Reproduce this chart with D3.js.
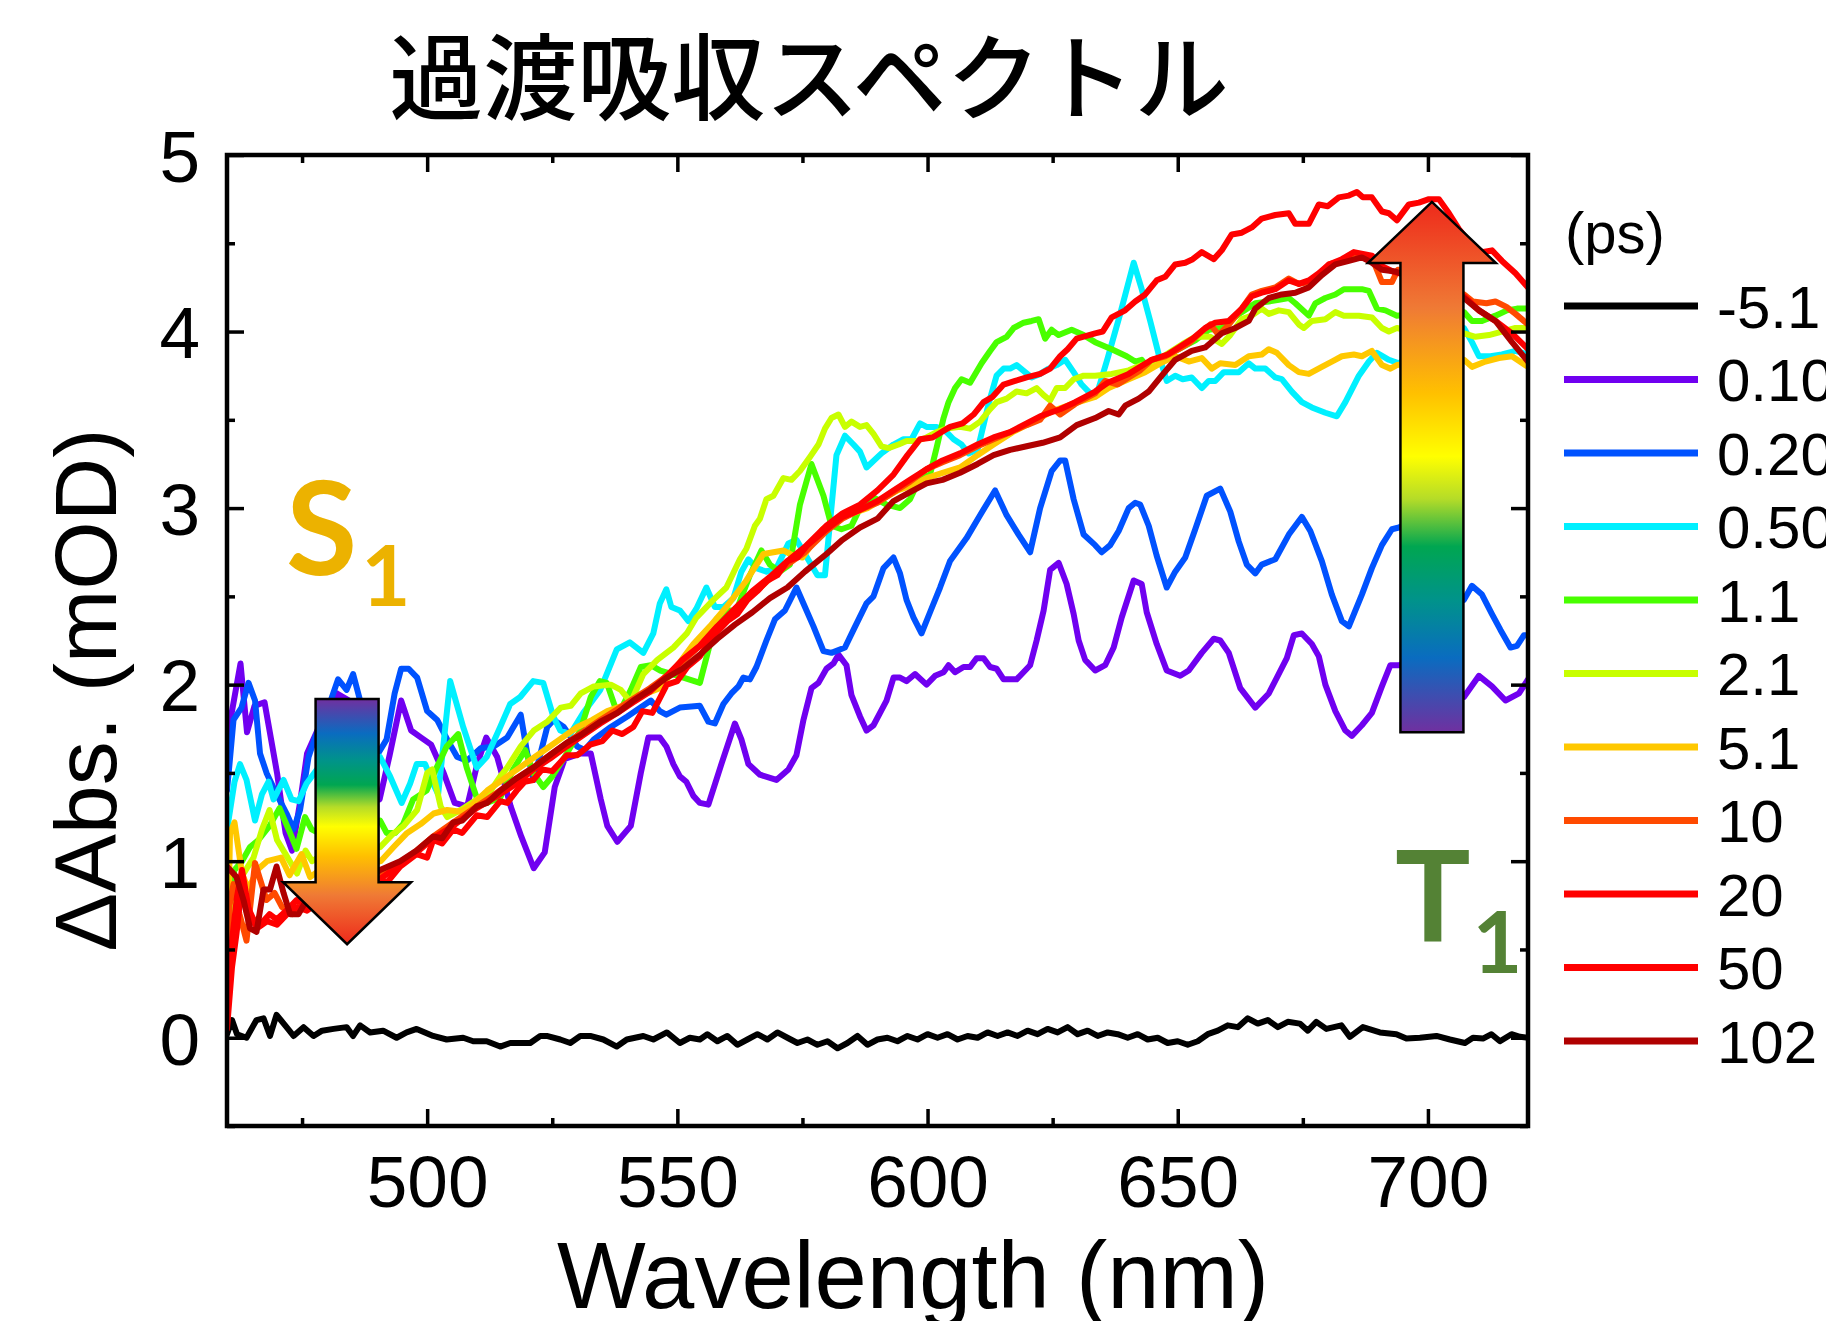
<!DOCTYPE html>
<html>
<head>
<meta charset="utf-8">
<script src="https://cdn.jsdelivr.net/npm/d3@7/dist/d3.min.js"></script>
<style>
  body { margin: 0; background: #fff; }
  svg { display: block; }
</style>
</head>
<body>
<svg id="chart"></svg>
<script>
// Legend entries (delay, ps) and line colours
const delays = ['-5.1', '0.10', '0.20', '0.50', '1.1', '2.1', '5.1', '10', '20', '50', '102'];
const lineColors = ['#000000', '#7000f0', '#0052ff', '#00f0ff', '#48ff00', '#c8ff00', '#ffc800', '#ff4a00', '#ff0000', '#ff0000', '#b00000'];

// Axis ticks
const xMajorTicks = [500, 550, 600, 650, 700];
const xMinorTicks = [475, 525, 575, 625, 675];
const yMajorTicks = [0, 1, 2, 3, 4, 5];
const yMinorTicks = [-0.5, 0.5, 1.5, 2.5, 3.5, 4.5];

// Spectra: [wavelength (nm), dAbs (mOD)]
const spec_m5p1 = [[460,0.02],[461,0.10],[462,0.02],[463.9,0.00],[465.9,0.10],[467.3,0.11],[468.6,0.01],[469.9,0.13],[471.9,0.06],[473.3,0.01],[475.3,0.06],[477.3,0.01],[479,0.04],[481.3,0.05],[483.9,0.06],[485.2,0.01],[486.6,0.07],[488.6,0.03],[491.2,0.04],[493.9,0.00],[495.9,0.03],[497.9,0.05],[501.2,0.01],[503.9,-0.01],[507.2,0.00],[509.2,-0.02],[511.9,-0.02],[514.6,-0.05],[516.6,-0.03],[520.6,-0.03],[522.6,0.01],[523.9,0.01],[526.6,-0.01],[528.6,-0.03],[530.6,0.01],[532.6,0.01],[535.2,-0.01],[537.9,-0.05],[539.9,-0.01],[543.2,0.01],[545.2,-0.01],[547.9,0.03],[550.5,-0.03],[552.5,0.00],[554.5,-0.01],[556,0.02],[558,-0.02],[560,0.01],[562,-0.04],[564,-0.01],[566,0.02],[568,-0.01],[570,0.03],[572,0.00],[574,-0.03],[576,-0.01],[578,-0.04],[580,-0.02],[582,-0.06],[584,-0.03],[586,0.01],[588,-0.04],[590,-0.01],[592,0.00],[594,-0.02],[596,0.01],[598,-0.01],[600,0.02],[602,0.00],[604,0.02],[606,-0.01],[608,0.01],[610,0.00],[612,0.03],[614,0.01],[616,0.03],[618,0.01],[620,0.04],[622,0.02],[624,0.05],[626,0.03],[628,0.06],[630,0.02],[632,0.04],[634,0.01],[636,0.03],[638,0.02],[640,0.00],[642,0.02],[644,-0.01],[646,0.00],[648,-0.03],[650,-0.02],[652,-0.04],[654,-0.02],[656,0.02],[658,0.04],[660,0.07],[662,0.06],[664,0.11],[666,0.08],[668,0.10],[670,0.06],[672,0.09],[674.4,0.08],[676,0.04],[677.7,0.09],[679.7,0.05],[682.7,0.07],[684.4,0.005],[687,0.06],[690.4,0.03],[693.7,0.02],[695.7,-0.005],[698.4,0.00],[701.7,0.01],[704.4,-0.01],[707.4,-0.03],[709,0.00],[711,-0.005],[712.7,0.02],[714.4,-0.02],[716.7,0.02],[718.4,0.005],[720,0.00]];

const spec_0p10 = [[460,1.70],[461,1.85],[462.7,2.12],[464,1.73],[465.5,1.88],[467.5,1.90],[470,1.50],[471.7,1.16],[473,1.06],[474.7,1.35],[476,1.61],[479,1.80],[482,1.95],[485,1.90],[488,1.55],[490.5,1.35],[492.5,1.60],[494.8,1.91],[496.8,1.74],[498.8,1.70],[500.8,1.66],[503.3,1.50],[505.5,1.33],[508,1.31],[510,1.55],[511.8,1.70],[514,1.59],[516.7,1.31],[518.8,1.14],[521.3,0.96],[523.5,1.05],[525.5,1.42],[527.5,1.58],[530.7,1.61],[532.7,1.61],[534.7,1.35],[536,1.20],[538,1.11],[540.7,1.20],[542.7,1.50],[544.2,1.70],[546.5,1.70],[547.8,1.65],[549.2,1.55],[550.5,1.48],[551.8,1.45],[553.2,1.37],[554.5,1.33],[556.2,1.32],[558.8,1.55],[561.5,1.78],[562.8,1.69],[564.2,1.55],[566.5,1.49],[569.8,1.46],[572.2,1.52],[573.8,1.60],[575.2,1.80],[576.8,1.98],[578.2,2.01],[579.8,2.09],[581.2,2.12],[582.2,2.17],[583.8,2.11],[584.8,1.94],[586.5,1.82],[587.8,1.74],[589.2,1.77],[591.8,1.91],[593.2,2.04],[594.5,2.04],[595.8,2.02],[597.5,2.06],[599.8,2.00],[601.5,2.05],[603.2,2.07],[604.2,2.11],[605.5,2.07],[607.2,2.10],[608.5,2.10],[609.8,2.15],[611.2,2.15],[612.5,2.10],[613.8,2.09],[615.2,2.03],[617.8,2.03],[620.5,2.11],[621.8,2.25],[623.2,2.42],[624.5,2.65],[626.2,2.69],[627.8,2.57],[629.2,2.40],[630.2,2.25],[631.5,2.14],[633.5,2.08],[635.5,2.11],[637.2,2.21],[638.8,2.38],[641.2,2.59],[642.8,2.57],[643.8,2.41],[645.8,2.23],[647.8,2.08],[650.5,2.05],[652.2,2.08],[654.8,2.18],[657.2,2.26],[658.5,2.25],[660.2,2.18],[662.5,1.98],[665.5,1.87],[668.2,1.95],[671.8,2.15],[673.2,2.28],[674.8,2.29],[676.8,2.23],[678.2,2.16],[679.5,2.00],[681.5,1.85],[683.5,1.74],[684.8,1.71],[686.8,1.77],[688.8,1.84],[690.8,1.99],[692.5,2.11],[694.2,2.11],[697,2.14],[700,2.08],[704,1.98],[707.2,1.93],[710.2,2.05],[712.8,1.99],[715.5,1.91],[718.2,1.95],[720,2.03]];

const spec_0p20 = [[460,1.40],[460.5,1.55],[461.3,1.80],[462.9,1.87],[464.3,2.01],[465.6,1.91],[466.6,1.61],[467.9,1.50],[469.9,1.38],[471.9,1.27],[473.3,1.18],[474.6,1.29],[476.3,1.59],[477.6,1.70],[480,1.85],[482.2,2.03],[483.9,1.97],[485.2,2.06],[486.6,1.91],[488.5,1.70],[490,1.60],[491.9,1.69],[493.5,1.95],[494.8,2.09],[496.3,2.09],[498,2.04],[500,1.85],[502,1.80],[504,1.69],[506,1.59],[508,1.57],[510.7,1.64],[513.3,1.65],[516,1.70],[518.7,1.83],[520,1.61],[521.3,1.46],[524,1.76],[525.3,1.80],[527.3,1.76],[530,1.65],[531.5,1.63],[533.3,1.69],[536.7,1.76],[540,1.82],[544.7,1.91],[546.5,1.85],[547.8,1.83],[550.5,1.87],[554.5,1.88],[556.2,1.79],[557.5,1.78],[559.2,1.89],[560.8,1.95],[562.2,1.99],[563.2,2.04],[564.5,2.03],[565.8,2.10],[567.8,2.25],[569.5,2.37],[571.5,2.42],[573.8,2.55],[575.2,2.46],[577.2,2.33],[579.2,2.19],[580.8,2.18],[583.5,2.21],[585.2,2.31],[587.8,2.46],[589.2,2.50],[591.2,2.66],[593.2,2.72],[594.5,2.63],[595.8,2.48],[597.2,2.38],[598.8,2.29],[600.5,2.41],[602.5,2.55],[604.5,2.70],[607.8,2.83],[610.5,2.96],[613.5,3.10],[615.8,2.96],[618.2,2.85],[620.5,2.75],[622.5,3.00],[624.8,3.21],[626.5,3.27],[627.5,3.27],[629.2,3.05],[631.2,2.85],[633.5,2.79],[634.8,2.75],[636.5,2.79],[638.2,2.87],[640.2,3.00],[641.5,3.03],[642.5,3.02],[644.2,2.90],[645.8,2.73],[647.8,2.55],[649.5,2.64],[651.5,2.72],[653.5,2.88],[655.8,3.07],[658.5,3.11],[660.5,2.98],[662.2,2.81],[663.8,2.68],[665.5,2.63],[666.8,2.68],[669.5,2.71],[672.2,2.85],[674.8,2.95],[676.5,2.87],[678.8,2.70],[680.8,2.51],[682.8,2.36],[684.2,2.33],[686.8,2.51],[688.8,2.66],[690.8,2.79],[692.8,2.88],[694.2,2.89],[697,2.93],[701,2.75],[704.5,2.50],[707.2,2.48],[708.8,2.56],[710.8,2.51],[712.8,2.40],[714.5,2.31],[716.5,2.21],[717.8,2.22],[719.2,2.28],[720,2.28]];

const spec_0p50 = [[460,1.10],[460.3,1.23],[461.5,1.45],[462.6,1.55],[463.9,1.46],[465.6,1.23],[467,1.38],[468.3,1.45],[469.3,1.35],[471.3,1.46],[472.9,1.35],[474.3,1.34],[475.9,1.44],[478,1.52],[481,1.55],[484,1.52],[487,1.48],[490.6,1.59],[492.6,1.48],[494.9,1.33],[496.6,1.44],[497.9,1.55],[499.6,1.55],[501,1.45],[502.2,1.38],[504.6,2.02],[507.2,1.76],[509.9,1.53],[511.9,1.59],[514.6,1.76],[516.6,1.89],[518.6,1.93],[521.2,2.02],[523.2,2.01],[525.2,1.82],[526.6,1.74],[528.6,1.72],[531.2,1.84],[534.6,1.97],[537.9,2.20],[540.5,2.24],[543.2,2.18],[545.2,2.29],[546.5,2.46],[547.8,2.54],[548.8,2.44],[550.5,2.42],[552.2,2.36],[553.8,2.43],[555.8,2.55],[557.5,2.44],[559.2,2.44],[561.2,2.49],[562.8,2.64],[564.2,2.71],[565.8,2.66],[567.8,2.64],[569.8,2.66],[572.2,2.80],[573.8,2.82],[575.5,2.74],[578,2.62],[579.5,2.62],[581.8,3.30],[583.5,3.41],[585.2,3.36],[586.5,3.32],[587.8,3.23],[590.8,3.31],[593.2,3.36],[595.2,3.39],[596.8,3.39],[598.5,3.48],[599.8,3.46],[601.8,3.46],[603.8,3.43],[605.2,3.39],[606.8,3.36],[608.2,3.31],[610,3.33],[612.2,3.59],[613.8,3.75],[615.2,3.79],[616.5,3.79],[617.8,3.81],[619.5,3.77],[620.8,3.74],[622.5,3.76],[624.2,3.79],[625.8,3.81],[627.5,3.84],[629.2,3.77],[630.8,3.70],[632.5,3.65],[634,3.66],[636,3.85],[638.5,4.10],[641.2,4.39],[642.8,4.24],[644.5,4.06],[646.2,3.87],[647.8,3.72],[649.5,3.75],[651,3.73],[652.8,3.74],[654.8,3.68],[656.2,3.72],[657.5,3.72],[659.2,3.77],[662.2,3.77],[664.2,3.82],[665.5,3.79],[667.5,3.79],[669.5,3.74],[670.8,3.73],[672.8,3.66],[674.8,3.60],[676.8,3.57],[679.5,3.54],[681.8,3.52],[683.5,3.60],[686.2,3.75],[688.2,3.83],[689.8,3.88],[692.2,3.84],[694.2,3.82],[697,3.88],[701,3.92],[704,3.98],[707.2,4.02],[708.8,3.94],[710.2,3.86],[712.5,3.86],[714.8,3.87],[717.5,3.89],[720,3.87]];

const spec_1p1 = [[460,0.75],[461.5,0.95],[463,1.00],[464.6,1.08],[466.3,1.12],[468.5,1.20],[470.5,1.30],[472.6,1.16],[473.9,1.07],[475.6,1.25],[476.9,1.18],[479,1.15],[482,1.20],[485,1.22],[488,1.20],[490.6,1.23],[491.9,1.16],[493.6,1.16],[495.2,1.21],[497.2,1.35],[499.9,1.40],[501.9,1.53],[503.9,1.65],[506.2,1.72],[507.9,1.53],[509.9,1.36],[511.9,1.33],[514.6,1.36],[517.2,1.52],[519.6,1.63],[521.2,1.50],[523.2,1.42],[525,1.48],[527.9,1.61],[530.6,1.74],[532.7,1.93],[534.5,2.02],[535.9,2.01],[537.6,1.87],[538.7,1.86],[540.7,1.97],[542.7,2.10],[544.7,2.11],[546.6,2.08],[549,2.06],[551.2,2.04],[554.5,2.01],[557.8,2.37],[559.8,2.42],[561.8,2.42],[564.5,2.62],[566.8,2.76],[568.5,2.68],[570.5,2.64],[572.5,2.68],[574.5,3.02],[576.8,3.25],[579.2,3.07],[580.8,2.90],[582.8,2.88],[584.8,2.90],[586.5,3.00],[589.2,3.06],[591.8,3.02],[594.5,3.00],[596.5,3.05],[598.5,3.17],[600.5,3.19],[601.8,3.34],[603.2,3.51],[604.2,3.60],[605.5,3.68],[606.8,3.73],[608.5,3.71],[610.8,3.82],[612.5,3.89],[613.8,3.94],[615.8,3.97],[617.2,4.02],[619.2,4.05],[620.8,4.06],[622.2,4.07],[623.5,3.96],[624.8,4.01],[626.2,3.98],[628.8,4.01],[631.2,3.98],[633.5,3.94],[636.8,3.90],[639.8,3.86],[641.5,3.83],[642.8,3.84],[644.2,3.79],[646.8,3.83],[649.5,3.89],[651.5,3.92],[653.5,3.95],[656.2,4.01],[658.8,4.02],[660.8,4.07],[662.8,4.11],[665.5,4.16],[668.2,4.17],[670.2,4.18],[672.2,4.19],[673.5,4.16],[676.2,4.09],[677.5,4.16],[679.5,4.19],[681.5,4.21],[683.2,4.24],[685.2,4.24],[686.8,4.24],[688.2,4.23],[689.8,4.13],[691.5,4.12],[693.8,4.09],[697,4.10],[701,4.12],[704,4.12],[707.2,4.11],[708.8,4.06],[710.8,4.06],[713.5,4.09],[715.8,4.12],[717.8,4.13],[720,4.13]];

const spec_2p1 = [[460,0.36],[461.5,0.75],[463.3,0.93],[465.3,1.02],[467,1.18],[468.5,1.29],[470,1.12],[471.7,1.04],[474,0.93],[475.7,1.06],[477,1.00],[480,1.05],[484,1.08],[488,1.05],[490.6,1.08],[493,1.15],[495.3,1.20],[498,1.29],[500,1.50],[501,1.52],[502.7,1.31],[504,1.25],[506.7,1.29],[510,1.35],[512.7,1.40],[514.6,1.48],[516,1.53],[518.7,1.65],[521.3,1.74],[524,1.79],[526.7,1.87],[528.7,1.88],[530.7,1.95],[533.3,1.99],[536.7,2.00],[538.7,1.97],[540.7,1.90],[543.2,2.06],[546,2.14],[549.2,2.21],[551.9,2.29],[553.8,2.38],[557.2,2.48],[559.8,2.55],[562.5,2.71],[563.8,2.77],[565.5,2.90],[566.5,2.94],[567.8,3.05],[569.2,3.07],[571.2,3.17],[572.8,3.16],[574.5,3.21],[576.5,3.29],[578.2,3.36],[579.5,3.45],[580.8,3.51],[582.2,3.53],[583.5,3.46],[584.8,3.49],[586.5,3.46],[587.8,3.47],[589.2,3.42],[590.8,3.35],[592.2,3.34],[594.2,3.36],[595.8,3.38],[597.8,3.38],[599.8,3.40],[601.8,3.43],[603.8,3.45],[606.5,3.46],[608.5,3.45],[610.5,3.49],[612.5,3.56],[613.8,3.60],[615.8,3.62],[617.8,3.66],[619.8,3.65],[621.8,3.68],[623.2,3.64],[624.5,3.61],[625.8,3.68],[627.5,3.68],[629.2,3.73],[631.2,3.75],[633.5,3.75],[636.8,3.76],[640.2,3.78],[642.8,3.81],[645.5,3.83],[648.8,3.89],[651,3.93],[653.5,3.97],[656.5,3.97],[658.8,3.93],[660.5,3.98],[662.8,4.07],[664.8,4.09],[666.8,4.13],[668.2,4.10],[670.2,4.12],[672.2,4.11],[674.2,4.04],[675.2,4.02],[676.8,4.06],[679.5,4.07],[681.5,4.11],[683.2,4.09],[686.2,4.09],[688.8,4.08],[690.8,4.02],[692.2,4.00],[693.8,4.02],[697,4.00],[701,3.99],[704,3.98],[707.2,3.99],[709.5,3.97],[712.2,3.98],[714.8,4.00],[717.5,4.02],[720,4.02]];

const spec_5p1 = [[460,0.20],[460.6,1.16],[461.5,1.22],[463,0.93],[464.3,0.84],[466,0.95],[468,1.00],[470.8,1.02],[472.5,0.92],[474.9,1.04],[476.6,0.91],[480,0.98],[484,1.00],[488,0.98],[490.7,1.00],[493.3,1.08],[496,1.16],[498.7,1.21],[501.3,1.27],[504,1.29],[506.7,1.28],[509,1.32],[512,1.40],[515,1.46],[518,1.52],[521,1.58],[524,1.64],[527,1.70],[530,1.76],[533,1.80],[536,1.85],[539,1.88],[542,1.93],[546.5,1.98],[549.8,2.10],[553.2,2.23],[556.5,2.33],[559.8,2.44],[563.8,2.59],[567.2,2.74],[571.2,2.76],[573.2,2.73],[575,2.72],[577,2.80],[579,2.88],[582,2.93],[585,2.97],[588,3.00],[591,3.05],[594,3.10],[597,3.13],[599.8,3.17],[603,3.20],[606.5,3.23],[610,3.30],[613.2,3.36],[617,3.43],[621.8,3.50],[625,3.55],[629,3.59],[633.5,3.63],[636.2,3.68],[640.2,3.73],[643.5,3.77],[646.5,3.82],[649.5,3.86],[652.2,3.83],[654.8,3.85],[656.8,3.79],[658.5,3.82],[661.5,3.81],[664.2,3.86],[666.8,3.87],[668.2,3.90],[669.8,3.88],[672.2,3.81],[674.2,3.77],[676.2,3.76],[678.8,3.80],[680.8,3.83],[682.8,3.86],[685.2,3.87],[686.8,3.86],[688.8,3.89],[690.8,3.81],[692.5,3.79],[693.8,3.81],[697,3.82],[701,3.83],[704,3.83],[707.2,3.84],[708.8,3.80],[711.5,3.83],[714.2,3.85],[716.8,3.86],[720,3.80]];

const spec_10 = [[460,0.40],[460.5,0.75],[461.3,0.87],[462.5,0.70],[463.9,0.55],[465.6,0.99],[466.8,0.88],[467.9,0.78],[469.5,0.82],[471,0.74],[473,0.70],[475,0.76],[477,0.80],[480,0.83],[484,0.86],[488,0.89],[490.6,0.93],[494.6,0.99],[497.9,1.06],[501.2,1.14],[505.2,1.22],[509.9,1.31],[514.6,1.40],[517.9,1.47],[521.2,1.53],[524.5,1.60],[527.9,1.67],[531,1.73],[534.6,1.80],[538,1.86],[541.2,1.92],[544.5,1.98],[547.9,2.05],[551,2.13],[554.5,2.22],[558,2.33],[561.5,2.42],[565,2.51],[568.5,2.60],[572,2.68],[575.5,2.75],[579.8,2.87],[583,2.94],[586.5,2.99],[590,3.03],[593.2,3.09],[596.5,3.15],[599.8,3.22],[603,3.26],[606.5,3.30],[610,3.35],[613.2,3.39],[616.5,3.43],[619.8,3.47],[622.5,3.50],[624.5,3.58],[626.5,3.53],[629.5,3.59],[633.5,3.65],[635.5,3.72],[638,3.70],[640.2,3.74],[642.5,3.78],[644.8,3.84],[647.5,3.86],[650.2,3.90],[652.5,3.94],[654.8,4.00],[656.5,4.04],[658.2,3.98],[660.2,4.04],[662.8,4.13],[664.8,4.21],[666.8,4.23],[669.5,4.25],[672.2,4.30],[674.2,4.27],[676.2,4.28],[678.2,4.32],[680.2,4.38],[682.8,4.40],[685.2,4.44],[687,4.42],[688.8,4.42],[690.8,4.28],[692.8,4.28],[694,4.35],[697,4.33],[701,4.28],[704,4.24],[707.2,4.21],[709,4.17],[711.7,4.16],[713.5,4.17],[715.7,4.14],[717.5,4.10],[720,4.04]];

const spec_20 = [[460,0.05],[461,0.40],[461.9,0.59],[462.9,0.85],[464,0.75],[465.3,0.67],[466.9,0.65],[468.5,0.70],[469.9,0.67],[471.9,0.72],[473.9,0.78],[476,0.75],[478,0.80],[482,0.84],[486,0.86],[490.6,0.90],[492,0.88],[494.6,0.97],[497.9,1.04],[500,1.02],[501.2,1.12],[503,1.10],[505.2,1.18],[507,1.16],[509.9,1.26],[512,1.25],[514.6,1.34],[516,1.33],[517.9,1.40],[519.5,1.45],[521.2,1.46],[523,1.52],[525,1.51],[527.9,1.60],[530,1.60],[532.6,1.66],[535,1.68],[537,1.74],[539,1.72],[541.2,1.76],[543,1.85],[545,1.84],[547.9,2.00],[550,2.02],[552,2.10],[554.5,2.16],[557,2.27],[560,2.36],[562,2.40],[564,2.48],[566,2.53],[568,2.59],[570,2.62],[572,2.70],[574,2.72],[576,2.79],[579.8,2.88],[583,2.95],[586.5,2.99],[590,3.04],[593.2,3.10],[596.5,3.16],[599.8,3.22],[603,3.27],[606.5,3.31],[610,3.36],[613.2,3.40],[616.5,3.43],[619.8,3.48],[622.5,3.52],[626.5,3.56],[629.5,3.60],[633.5,3.66],[636,3.71],[640.2,3.76],[644.8,3.84],[648,3.87],[650.2,3.91],[653,3.96],[655.5,4.02],[657.5,4.05],[660.2,4.06],[662.8,4.13],[664.8,4.20],[666.8,4.22],[669.5,4.24],[672.2,4.29],[674.2,4.27],[676.2,4.29],[678.2,4.33],[680.2,4.38],[682.8,4.41],[685.2,4.45],[688.8,4.43],[690.8,4.37],[693,4.34],[697,4.31],[701,4.27],[704,4.23],[707.2,4.20],[710.2,4.12],[713.5,4.06],[716.8,3.99],[720,3.90]];

const spec_50 = [[460,0.15],[461,0.55],[462,0.80],[463,0.95],[464.5,0.70],[466,0.62],[468,0.66],[470,0.64],[472,0.70],[474,0.74],[476,0.72],[479,0.78],[483,0.82],[487,0.85],[490.6,0.90],[494.6,0.98],[497.9,1.05],[501.2,1.13],[505.2,1.20],[509.9,1.30],[514.6,1.38],[517.9,1.44],[521.2,1.52],[524.5,1.58],[527.9,1.65],[531,1.71],[534.6,1.78],[538,1.84],[541.2,1.90],[544.5,1.96],[547.9,2.05],[551,2.14],[554.5,2.22],[558,2.33],[561.5,2.43],[565,2.53],[568.5,2.61],[572,2.70],[575.5,2.78],[579.8,2.90],[583,2.97],[586.5,3.02],[590,3.10],[593.2,3.19],[596,3.30],[598.5,3.39],[601,3.40],[604.5,3.46],[607,3.48],[609.2,3.53],[611.2,3.60],[613,3.63],[615.2,3.70],[617.5,3.72],[619.8,3.74],[622.5,3.76],[624.5,3.79],[626.5,3.86],[628,3.90],[629.8,3.96],[633.5,3.99],[635,4.00],[636.8,4.08],[639.5,4.12],[641.5,4.17],[643.5,4.21],[645.8,4.29],[647.5,4.31],[649.5,4.38],[651.5,4.39],[653,4.41],[654.8,4.45],[657.2,4.41],[658.8,4.46],[660.8,4.55],[662.8,4.56],[664.8,4.59],[666.8,4.64],[669.5,4.66],[672.2,4.67],[673.5,4.61],[676.2,4.61],[678.2,4.72],[680,4.71],[682.2,4.76],[684.2,4.77],[685.8,4.79],[687,4.76],[688.8,4.76],[690.8,4.68],[692.2,4.67],[693.8,4.63],[696.2,4.72],[698.2,4.73],[700.2,4.75],[702.2,4.75],[704.2,4.67],[706.2,4.58],[708.5,4.50],[710.8,4.45],[712.8,4.46],[714.8,4.40],[717.5,4.33],[720,4.25]];

const spec_102 = [[460,0.97],[461.9,0.91],[463.3,0.78],[464.6,0.62],[465.9,0.60],[467.3,0.84],[468.6,0.84],[469.9,0.97],[471.3,0.82],[472.6,0.70],[474.3,0.70],[475.9,0.78],[477.6,0.82],[480,0.84],[484,0.87],[488,0.90],[490.6,0.95],[494.6,1.00],[497.9,1.06],[501.2,1.14],[503,1.13],[505.2,1.22],[507,1.23],[509.9,1.31],[512,1.33],[514.6,1.40],[517.9,1.47],[521.2,1.53],[524.5,1.60],[527.9,1.67],[531,1.72],[534.6,1.79],[538,1.84],[541.2,1.91],[544.5,1.97],[547.9,2.04],[551,2.09],[554.5,2.17],[558,2.26],[561.5,2.34],[565,2.41],[568.5,2.49],[572,2.55],[575.5,2.64],[579.8,2.74],[583,2.82],[586.5,2.89],[590,2.94],[593.2,3.04],[596.5,3.09],[599.8,3.14],[603,3.16],[606.5,3.20],[610,3.25],[613.2,3.30],[616.5,3.33],[619.8,3.35],[623,3.37],[626.5,3.40],[629.8,3.47],[633.5,3.51],[636.2,3.55],[638.2,3.53],[639.5,3.58],[642.2,3.62],[644.2,3.66],[646.8,3.75],[649.5,3.84],[652.8,3.89],[655.5,3.91],[658.8,3.99],[661.5,4.02],[664.2,4.06],[665.5,4.13],[668.2,4.19],[670.8,4.21],[673.5,4.22],[676.2,4.25],[678.8,4.32],[681.5,4.38],[684.2,4.40],[686.8,4.42],[688.8,4.39],[690.8,4.35],[693.5,4.34],[697,4.30],[701,4.27],[704,4.23],[707.2,4.19],[710.2,4.12],[713.5,4.06],[716.8,3.94],[720,3.83]];

const spectra = [spec_m5p1, spec_0p10, spec_0p20, spec_0p50, spec_1p1, spec_2p1, spec_5p1, spec_10, spec_20, spec_50, spec_102];

// Annotation arrows in data units (centre wavelength, start, head base, tip)
const s1Arrow = { nm: 484.0, start: 1.918, headBase: 0.881, tip: 0.530 };
const t1Arrow = { nm: 700.8, start: 1.731, headBase: 4.388, tip: 4.734 };
// Gradient colours, from the red (head) end to the purple (tail) end
const arrowStops = [[0, '#ee2a1b'], [0.2, '#ef7a35'], [0.36, '#ffc000'], [0.48, '#ffff00'], [0.56, '#b5dc28'], [0.65, '#00a651'], [0.75, '#00938a'], [0.86, '#0a6cc0'], [1, '#7030a0']];

const W = 1826, H = 1321;
const plot = { left: 227, right: 1528, top: 155, bottom: 1126 };

const svg = d3.select('#chart').attr('width', W).attr('height', H);

const x = d3.scaleLinear().domain([460, 720]).range([plot.left, plot.right]);
const y = d3.scaleLinear().domain([-0.5, 5]).range([plot.bottom, plot.top]);

const defs = svg.append('defs');
defs.append('clipPath').attr('id', 'plotClip')
    .append('rect')
    .attr('x', plot.left).attr('y', plot.top)
    .attr('width', plot.right - plot.left).attr('height', plot.bottom - plot.top);

// gradient for each arrow: red at the head end (stops must increase)
function addGradient(id, redAtTop) {
    const g = defs.append('linearGradient').attr('id', id)
        .attr('x1', 0).attr('y1', 0).attr('x2', 0).attr('y2', 1);
    const stops = redAtTop ? arrowStops : arrowStops.map(([o, c]) => [1 - o, c]).reverse();
    stops.forEach(([o, c]) => {
        g.append('stop').attr('offset', o).attr('stop-color', c);
    });
}
addGradient('gradUp', true);
addGradient('gradDown', false);

// Title
svg.append('text')
    .attr('x', 809).attr('y', 113)
    .attr('text-anchor', 'middle')
    .style('font-family', '"Noto Sans CJK JP", sans-serif')
    .style('font-weight', 500)
    .style('font-size', '94px')
    .text('過渡吸収スペクトル');

// Spectra
const line = d3.line().x((d) => x(d[0])).y((d) => y(d[1]));
svg.append('g').attr('clip-path', 'url(#plotClip)')
    .selectAll('path')
    .data(spectra)
    .enter()
    .append('path')
    .attr('d', line)
    .attr('fill', 'none')
    .attr('stroke', (d, i) => lineColors[i])
    .attr('stroke-width', 6)
    .attr('stroke-linejoin', 'round')
    .attr('stroke-linecap', 'round');

// Axes (ticks pointing inward on all four sides)
const tickFont = '"Liberation Sans", Arial, sans-serif';
function drawAxis(axis, tx, ty) {
    const g = svg.append('g').attr('transform', `translate(${tx},${ty})`).call(axis);
    g.select('.domain').remove();
    g.selectAll('.tick line').attr('stroke', '#000').attr('stroke-width', 3.5);
    g.selectAll('.tick text').style('font-family', tickFont).style('font-size', '73px').attr('fill', '#000');
    return g;
}
drawAxis(d3.axisBottom(x).tickValues(xMajorTicks).tickSize(-17).tickPadding(29).tickFormat(d3.format('d')), 0, plot.bottom);
drawAxis(d3.axisBottom(x).tickValues(xMinorTicks).tickSize(-8).tickFormat(''), 0, plot.bottom);
drawAxis(d3.axisTop(x).tickValues(xMajorTicks).tickSize(-17).tickFormat(''), 0, plot.top);
drawAxis(d3.axisTop(x).tickValues(xMinorTicks).tickSize(-8).tickFormat(''), 0, plot.top);
const yLeft = drawAxis(d3.axisLeft(y).tickValues(yMajorTicks).tickSize(-17).tickPadding(27).tickFormat(d3.format('d')), plot.left, 0);
yLeft.selectAll('.tick text').attr('dy', '0.36em');
drawAxis(d3.axisLeft(y).tickValues(yMinorTicks).tickSize(-8).tickFormat(''), plot.left, 0);
drawAxis(d3.axisRight(y).tickValues(yMajorTicks).tickSize(-17).tickFormat(''), plot.right, 0);
drawAxis(d3.axisRight(y).tickValues(yMinorTicks).tickSize(-8).tickFormat(''), plot.right, 0);

// Frame
svg.append('rect')
    .attr('x', plot.left).attr('y', plot.top)
    .attr('width', plot.right - plot.left).attr('height', plot.bottom - plot.top)
    .attr('fill', 'none').attr('stroke', '#000').attr('stroke-width', 4.5);

// Axis titles
svg.append('text')
    .attr('x', 913).attr('y', 1308)
    .attr('text-anchor', 'middle')
    .style('font-family', tickFont).style('font-size', '94px')
    .text('Wavelength (nm)');
svg.append('text')
    .attr('transform', 'translate(116,690) rotate(-90)')
    .attr('text-anchor', 'middle')
    .style('font-family', tickFont).style('font-size', '88px')
    .text('ΔAbs. (mOD)');

// Arrows
function arrowPoints(a) {
    const cx = x(a.nm), shaft = 31.5, head = 64;
    const y0 = y(a.start), yb = y(a.headBase), yt = y(a.tip);
    return [[cx - shaft, y0], [cx - shaft, yb], [cx - head, yb], [cx, yt],
            [cx + head, yb], [cx + shaft, yb], [cx + shaft, y0]];
}
svg.append('polygon')
    .attr('points', arrowPoints(s1Arrow).map((p) => p.join(',')).join(' '))
    .attr('fill', 'url(#gradDown)').attr('stroke', '#000').attr('stroke-width', 2.5);
svg.append('polygon')
    .attr('points', arrowPoints(t1Arrow).map((p) => p.join(',')).join(' '))
    .attr('fill', 'url(#gradUp)').attr('stroke', '#000').attr('stroke-width', 2.5);

// State labels
function stateLabel(letter, nm, val, color, subDx, subDy, bigSize, subSize) {
    const t = svg.append('text')
        .attr('x', x(nm)).attr('y', y(val))
        .style('font-family', 'Lato, "Open Sans", sans-serif')
        .style('font-weight', 700)
        .attr('fill', color);
    t.append('tspan').style('font-size', bigSize + 'px').text(letter);
    t.append('tspan').attr('dx', subDx).attr('dy', subDy).style('font-size', subSize + 'px').text('1');
}
stateLabel('S', 471.8, 2.62, '#ecb200', 4, 31, 130, 85);
stateLabel('T', 693.4, 0.54, '#548235', 2, 31, 126, 86);

// Legend
const legend = svg.append('g');
legend.append('text')
    .attr('x', 1565).attr('y', 253)
    .style('font-family', tickFont).style('font-size', '58px')
    .text('(ps)');
delays.forEach((label, i) => {
    const ly = 306 + i * 73.5;
    legend.append('line')
        .attr('x1', 1564).attr('x2', 1698).attr('y1', ly).attr('y2', ly)
        .attr('stroke', lineColors[i]).attr('stroke-width', 7);
    legend.append('text')
        .attr('x', 1717).attr('y', ly + 21.5)
        .style('font-family', tickFont).style('font-size', '60px')
        .text(label);
});
</script>
</body>
</html>
